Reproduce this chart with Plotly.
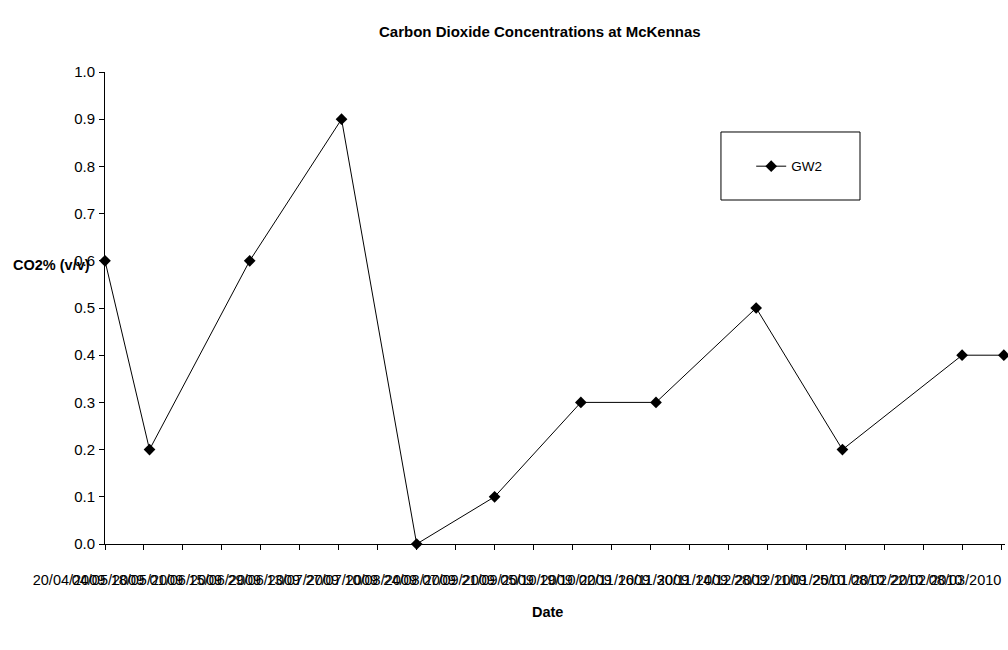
import plotly.graph_objects as go

# Sampling dates and CO2 readings for well GW2
dates = [
    "2009-04-20", "2009-05-06", "2009-06-11", "2009-07-14", "2009-08-10",
    "2009-09-07", "2009-10-08", "2009-11-04", "2009-12-10", "2010-01-10",
    "2010-02-22", "2010-03-09",
]
co2_gw2 = [0.6, 0.2, 0.6, 0.9, 0.0, 0.1, 0.3, 0.3, 0.5, 0.2, 0.4, 0.4]

series_name = "GW2"
chart_title = "Carbon Dioxide Concentrations at McKennas"
y_title = "CO2% (v/v)"
x_title = "Date"

FONT = "Liberation Sans, Arial, sans-serif"
TWO_WEEKS_MS = 14 * 24 * 3600 * 1000

fig = go.Figure()
fig.add_trace(go.Scatter(
    x=dates, y=co2_gw2, name=series_name, mode="lines+markers",
    line=dict(color="black", width=1),
    marker=dict(symbol="diamond", size=9, color="black"),
    cliponaxis=False,
))

fig.update_layout(
    width=1008, height=650,
    margin=dict(l=105, r=3, t=72, b=106),
    paper_bgcolor="white", plot_bgcolor="white",
    font=dict(family=FONT, size=14, color="black"),
    showlegend=True,
    legend=dict(
        x=0.718, y=0.80, xanchor="left", yanchor="middle",
        bgcolor="rgba(0,0,0,0)", borderwidth=0,
        font=dict(family=FONT, size=13.5, color="black"),
        itemwidth=30,
    ),
    xaxis=dict(
        type="date",
        range=["2009-04-20", "2010-03-09 10:00"],
        tickmode="linear", tick0="2009-04-20", dtick=TWO_WEEKS_MS,
        tickformat="%d/%m/%Y", tickangle=0,
        showgrid=False, zeroline=False,
        showline=True, linecolor="black", linewidth=1,
        ticks="outside", ticklen=5, tickcolor="black",
        tickfont=dict(family=FONT, size=14.5, color="black"),
        ticklabelshift=-36, ticklabelstandoff=18,
    ),
    yaxis=dict(
        range=[0, 1], dtick=0.1, tickformat=".1f",
        showgrid=False, zeroline=False,
        showline=True, linecolor="black", linewidth=1,
        ticks="outside", ticklen=5, tickcolor="black",
        tickfont=dict(family=FONT, size=15, color="black"),
        ticklabelstandoff=1,
    ),
    shapes=[dict(
        type="rect", xref="paper", yref="paper",
        x0=0.6844, x1=0.8389, y0=0.7288, y1=0.8729,
        line=dict(color="black", width=1), fillcolor="rgba(0,0,0,0)",
        layer="below",
    )],
    annotations=[
        dict(text=f"<b>{chart_title}</b>", xref="paper", yref="paper",
             x=0.483, y=1.0, yshift=41, xanchor="center", yanchor="middle",
             showarrow=False, font=dict(family=FONT, size=15)),
        dict(text=f"<b>{y_title}</b>", xref="paper", yref="paper",
             x=0, xshift=-13, y=0.591, xanchor="right", yanchor="middle",
             showarrow=False, font=dict(family=FONT, size=14.5)),
        dict(text=f"<b>{x_title}</b>", xref="paper", yref="paper",
             x=0.492, y=0, yshift=-68, xanchor="center", yanchor="middle",
             showarrow=False, font=dict(family=FONT, size=14.5)),
    ],
)

fig.write_html("out.html")
